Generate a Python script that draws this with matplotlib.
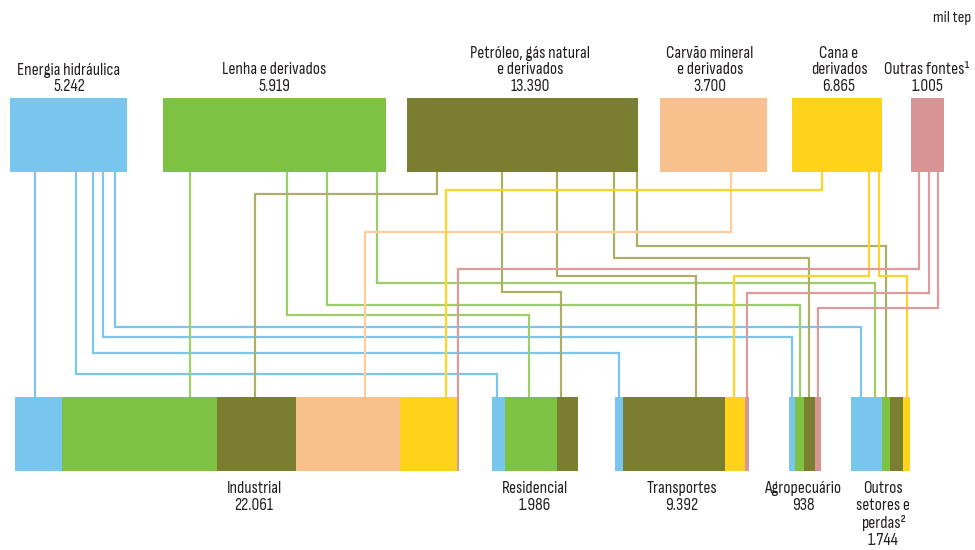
import matplotlib
matplotlib.use("Agg")
import matplotlib.pyplot as plt

# ---------------- data ----------------
sources = ["Energia hidráulica", "Lenha e derivados", "Petróleo, gás natural\ne derivados",
           "Carvão mineral\ne derivados", "Cana e\nderivados", "Outras fontes¹"]
source_values = ["5.242", "5.919", "13.390", "3.700", "6.865", "1.005"]

sectors = ["Industrial", "Residencial", "Transportes", "Agropecuário", "Outros\nsetores e\nperdas²"]
sector_values = ["22.061", "1.986", "9.392", "938", "1.744"]

# flows[sector][source] in mil tep
flows = [
    [2335, 7701, 3925, 5167, 2832, 101],
    [300, 1201, 485, 0, 0, 0],
    [561, 0, 7149, 0, 1402, 280],
    [176, 264, 322, 0, 0, 176],
    [917, 236, 384, 0, 207, 0],
]

# ---------------- layout / style ----------------
box_colors = ["#78C5EE", "#7DC242", "#797E31", "#F8C08C", "#FFD31A", "#D99595"]
line_colors = ["#7CC6EE", "#9CCE6A", "#ADAE68", "#FFCC9E", "#FFD42A", "#DC9C9C"]

src_x = [(10, 127), (163, 386), (407, 638), (660, 767), (792, 882), (911, 944)]
src_y = (98, 172)
sec_x = [(15, 459), (492, 578), (615, 749), (789, 821), (851, 910)]
sec_y = (397, 471)

# routes: (source, sector, x at source, horizontal y, x at sector)
routes = [
    (0, 0, 35, None, 35), (0, 1, 76, 374, 497), (0, 2, 93, 353, 619),
    (0, 3, 103, 337, 792), (0, 4, 115, 327, 861),
    (1, 0, 190, None, 190), (1, 1, 287, 315, 529), (1, 3, 327, 305, 800),
    (1, 4, 377, 283, 875),
    (2, 0, 437, 194, 255), (2, 1, 502, 292, 561), (2, 2, 557, 276, 696),
    (2, 3, 614, 258, 809), (2, 4, 637, 246, 886),
    (3, 0, 731, 232, 365),
    (4, 0, 822, 190, 446), (4, 2, 869, 276, 734), (4, 4, 879, 276, 907),
    (5, 0, 919, 269, 458), (5, 2, 929, 293, 747), (5, 3, 938, 308, 818),
]

plt.rcParams["font.family"] = ["Sofia Sans Condensed", "Barlow Condensed", "DejaVu Sans"]

fig = plt.figure(figsize=(9.75, 5.5), dpi=100)
ax = fig.add_axes([0, 0, 1, 1])
ax.set_xlim(0, 975)
ax.set_ylim(550, 0)
ax.axis("off")

# connection lines
for s, k, x0, yh, x1 in routes:
    if yh is None:
        xs, ys = [x0, x1], [src_y[1], sec_y[0]]
    else:
        xs, ys = [x0, x0, x1, x1], [src_y[1], yh, yh, sec_y[0]]
    ax.plot(xs, ys, color=line_colors[s], lw=1.6, solid_joinstyle="miter", zorder=2)

# source boxes
for i, (a, b) in enumerate(src_x):
    ax.fill_between([a, b], src_y[0], src_y[1], color=box_colors[i], lw=0, zorder=3)

# sector stacked bars
for k, (a, b) in enumerate(sec_x):
    total = sum(flows[k])
    cur = a
    for s, v in enumerate(flows[k]):
        if v <= 0:
            continue
        w = (b - a) * v / total
        ax.fill_between([cur, cur + w], sec_y[0], sec_y[1], color=box_colors[s], lw=0, zorder=3)
        cur += w

fs = 12.5
tc = "#231F20"
# top labels
src_cx = [69, 274, 530, 710, 839, 927]
for i in range(len(sources)):
    lines = sources[i].split("\n") + [source_values[i]]
    for j, t in enumerate(lines):
        y = 91 - (len(lines) - 1 - j) * 16.5
        ax.text(src_cx[i], y, t, ha="center", va="baseline", fontsize=fs, color=tc, zorder=4)

# bottom labels
sec_cx = [254, 535, 682, 803, 883]
for k in range(len(sectors)):
    lines = sectors[k].split("\n") + [sector_values[k]]
    for j, t in enumerate(lines):
        ax.text(sec_cx[k], 493 + j * 17.3, t, ha="center", va="baseline", fontsize=fs,
                color=tc, zorder=4)

ax.text(971, 22, "mil tep", ha="right", va="baseline", fontsize=fs - 0.5, color=tc)

fig.savefig("out.png", dpi=100)
